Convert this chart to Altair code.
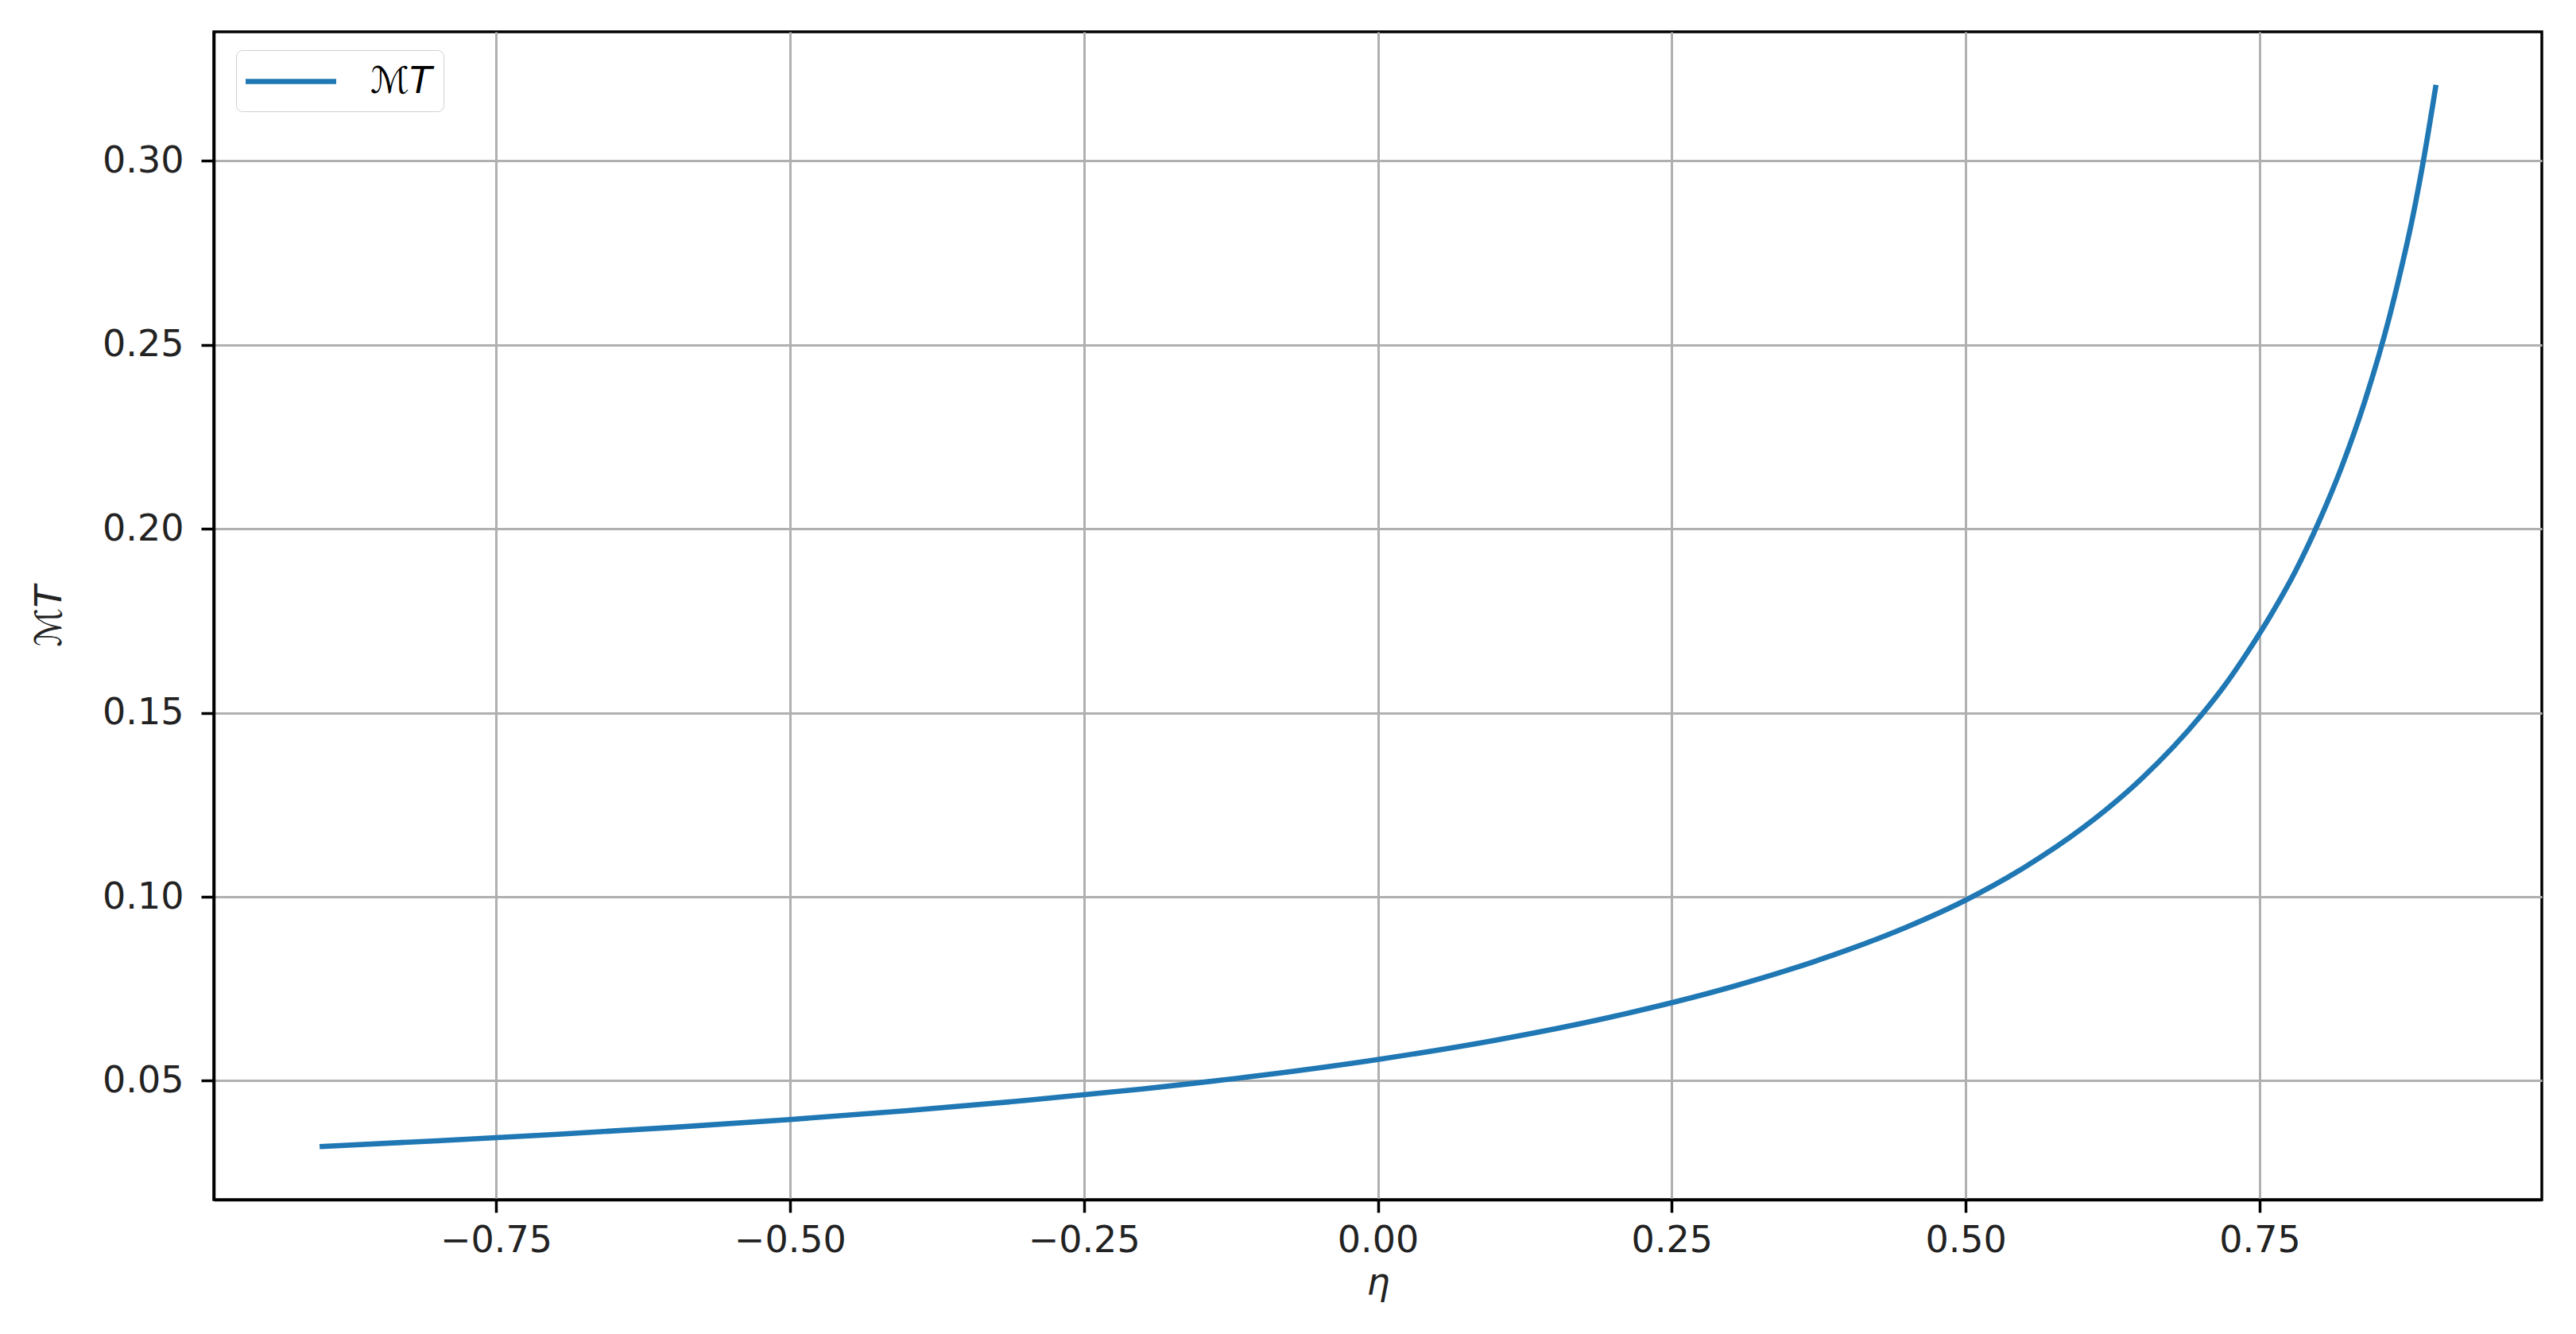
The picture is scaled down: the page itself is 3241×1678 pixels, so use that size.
import altair as alt
import pandas as pd

# eta values and M_T values
eta = [-0.90, -0.80, -0.70, -0.60, -0.50, -0.40, -0.30, -0.20, -0.10, 0.00,
       0.10, 0.20, 0.30, 0.35, 0.40, 0.45, 0.50, 0.55, 0.60, 0.65,
       0.70, 0.72, 0.74, 0.76, 0.78, 0.80, 0.82, 0.84, 0.86, 0.87,
       0.88, 0.89, 0.90]
mt = [0.03213, 0.03370, 0.03542, 0.03734, 0.03948, 0.04189, 0.04464, 0.04779, 0.05146, 0.05580,
      0.06103, 0.06744, 0.07543, 0.08020, 0.08561, 0.09181, 0.09910, 0.10800, 0.11880, 0.13220,
      0.14920, 0.15730, 0.16660, 0.17680, 0.18820, 0.20160, 0.21700, 0.23520, 0.25710, 0.27010,
      0.28440, 0.30130, 0.32060]
series_name = "ℳT"

x_ticks = [-0.75, -0.50, -0.25, 0.00, 0.25, 0.50, 0.75]
y_ticks = [0.05, 0.10, 0.15, 0.20, 0.25, 0.30]

df = pd.DataFrame({"eta": eta, "mt": mt, "series": [series_name] * len(eta)})

xr = max(eta) - min(eta)
yr = max(mt) - min(mt)
x_dom = [min(eta) - 0.05 * xr, max(eta) + 0.05 * xr]
y_dom = [min(mt) - 0.05 * yr, max(mt) + 0.05 * yr]

FONT = "DejaVu Sans"
FS = 46

chart = alt.Chart(df).mark_line(strokeWidth=6.6, interpolate="monotone").encode(
    x=alt.X("eta:Q",
            scale=alt.Scale(domain=x_dom, nice=False, zero=False),
            axis=alt.Axis(values=x_ticks, format=".2f", title="η",
                          titleFontStyle="italic", titlePadding=8,
                          labelPadding=13)),
    y=alt.Y("mt:Q",
            scale=alt.Scale(domain=y_dom, nice=False, zero=False),
            axis=alt.Axis(values=y_ticks, format=".2f", title="ℳT",
                          titleFontStyle="italic", titlePadding=42,
                          labelPadding=22)),
    color=alt.Color("series:N",
                    scale=alt.Scale(range=["#1f77b4"]),
                    legend=alt.Legend(title=None, orient="none",
                                      legendX=28, legendY=23,
                                      symbolType="M-2.59,0H2.59",
                                      symbolStrokeWidth=6.6,
                                      symbolSize=1936,
                                      symbolOffset=29.5,
                                      labelFontSize=FS,
                                      labelFont=FONT,
                                      labelFontStyle="italic",
                                      labelOffset=74.5,
                                      fillColor="white",
                                      strokeColor="#d0d0d0",
                                      cornerRadius=8,
                                      padding=14)),
).properties(
    width=2929,
    height=1469,
    autosize=alt.AutoSizeParams(type="none"),
    padding={"left": 261, "top": 32, "right": 20, "bottom": 155},
).configure(
    font=FONT,
    background="white",
).configure_view(
    stroke="black",
    strokeWidth=3.5,
).configure_axis(
    labelFont=FONT,
    titleFont=FONT,
    labelFontSize=FS,
    titleFontSize=FS,
    titleFontWeight="normal",
    labelColor="#222222",
    titleColor="#222222",
    tickSize=16,
    tickWidth=3.5,
    tickColor="black",
    domainColor="black",
    domainWidth=3.5,
    gridColor="#b0b0b0",
    gridWidth=3,
)

chart.save("out.html", embed_options={"renderer": "svg", "actions": False})
